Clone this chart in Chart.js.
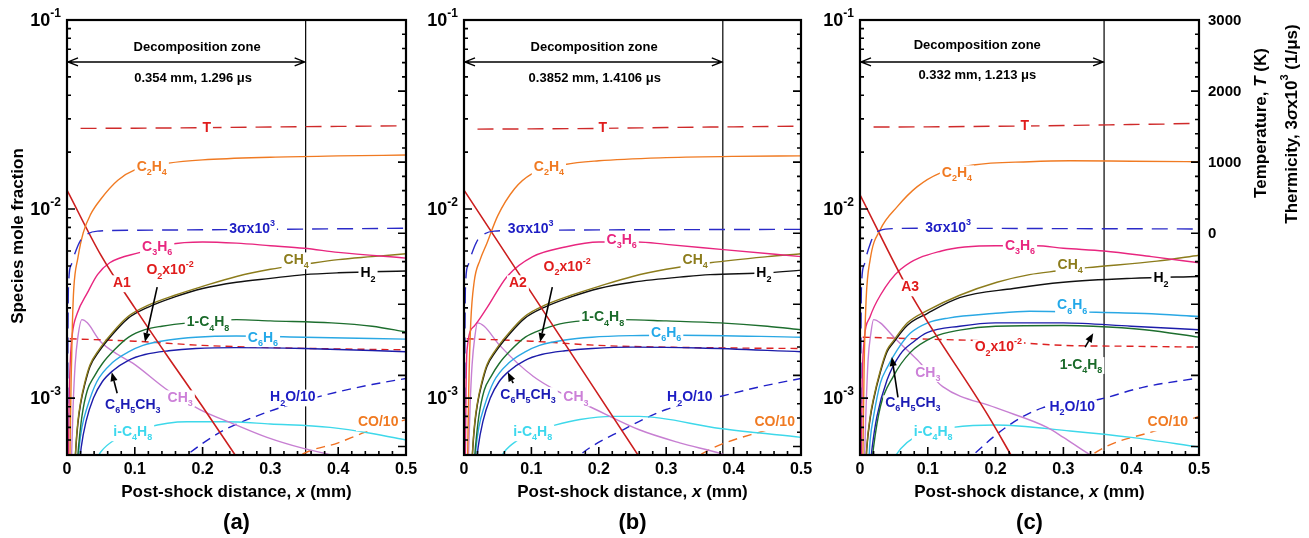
<!DOCTYPE html>
<html><head><meta charset="utf-8">
<script src="https://cdn.jsdelivr.net/npm/chart.js@4"></script>
<style>
body{margin:0;background:#fff;}
#wrap{position:relative;width:1309px;height:538px;background:#fff;}
canvas{position:absolute;left:0;top:0;}
</style></head>
<body><div id="wrap">
<canvas id="ca" width="1309" height="538"></canvas>
<canvas id="cb" width="1309" height="538"></canvas>
<canvas id="cc" width="1309" height="538"></canvas>
</div>
<script>
// ---------------- axis ranges / ticks ----------------
const X_MIN = 0, X_MAX = 0.5;
const Y_MIN = 5e-4, Y_MAX = 0.1;          // species mole fraction (log)
const Y2_MIN = -3120, Y2_MAX = 3000;      // temperature / thermicity (linear)
const X_TICKS = [0, 0.1, 0.2, 0.3, 0.4, 0.5];
const Y_DECADES = [0.1, 0.01, 0.001];
const Y2_LABELS = [0, 1000, 2000, 3000];

// decomposition zone ends (mm)
const DECOMP_X = [0.352, 0.384, 0.36];
const DECOMP_TEXT = ['0.354 mm, 1.296 μs', '0.3852 mm, 1.4106 μs', '0.332 mm, 1.213 μs'];

// ---------------- panel (a) ----------------
const T_a    = [[0.02,1475],[0.1,1478],[0.2,1485],[0.3,1495],[0.4,1503],[0.5,1511]];
const S_a    = [[0.0005,-3100],[0.002,-800],[0.006,-450],[0.01,-330],[0.015,-200],[0.02,-100],[0.03,-10],[0.045,30],[0.1,42],[0.3,55],[0.5,70]];
const C2H4_a = [[0.004,4e-4],[0.006,0.0012],[0.008,0.0025],[0.01,0.0038],[0.016,0.0055],[0.024,0.0075],[0.035,0.0094],[0.05,0.0113],[0.075,0.0142],[0.1,0.0161],[0.15,0.0175],[0.2,0.0182],[0.3,0.0188],[0.4,0.0191],[0.5,0.0193]];
const A1     = [[0,0.0126],[0.05,0.0057],[0.1,0.003],[0.15,0.00163],[0.2,0.0009],[0.248,0.0005],[0.26,0.00043]];
const C3H6_a = [[0.0015,3e-4],[0.003,0.0009],[0.005,0.0016],[0.008,0.0022],[0.015,0.0028],[0.03,0.0036],[0.045,0.0045],[0.063,0.0052],[0.108,0.0059],[0.15,0.0065],[0.2,0.0067],[0.25,0.0066],[0.3,0.0064],[0.35,0.0062],[0.4,0.0059],[0.5,0.0055]];
const CH4_a  = [[0.011,4e-4],[0.013,5.5e-4],[0.016,0.00075],[0.02,0.00095],[0.026,0.0012],[0.034,0.0015],[0.047,0.0018],[0.066,0.0022],[0.09,0.0027],[0.12,0.0031],[0.159,0.0035],[0.2,0.0039],[0.25,0.0044],[0.3,0.0048],[0.35,0.0051],[0.4,0.0054],[0.45,0.0056],[0.5,0.0058]];
const H2_a   = [[0.011,3.9e-4],[0.013,5.4e-4],[0.016,0.00073],[0.02,0.00093],[0.026,0.00117],[0.034,0.00147],[0.047,0.00176],[0.066,0.00215],[0.09,0.00264],[0.12,0.00303],[0.159,0.00343],[0.2,0.0038],[0.25,0.0041],[0.3,0.0043],[0.35,0.0045],[0.4,0.0046],[0.5,0.0047]];
const C4H8_a = [[0.014,4e-4],[0.017,5.5e-4],[0.022,0.0008],[0.03,0.0011],[0.04,0.0013],[0.052,0.00152],[0.07,0.0018],[0.091,0.0021],[0.115,0.0023],[0.14,0.0024],[0.18,0.0025],[0.25,0.0026],[0.3,0.00256],[0.39,0.0025],[0.45,0.0024],[0.5,0.00224]];
const C6H6_a = [[0.015,4e-4],[0.018,5.5e-4],[0.022,0.0007],[0.03,0.0009],[0.044,0.00122],[0.068,0.00155],[0.09,0.00175],[0.112,0.0019],[0.15,0.00203],[0.19,0.0021],[0.25,0.00213],[0.35,0.0021],[0.5,0.00205]];
const TOL_a  = [[0.017,4e-4],[0.021,5.5e-4],[0.028,0.00075],[0.039,0.001],[0.052,0.00122],[0.068,0.0014],[0.09,0.00158],[0.115,0.0017],[0.15,0.00178],[0.19,0.00183],[0.25,0.00185],[0.35,0.00183],[0.5,0.00176]];
const O2_a   = [[0.004,0.00206],[0.1,0.002],[0.2,0.0019],[0.3,0.00185],[0.4,0.00182],[0.5,0.0018]];
const CH3_a  = [[0.006,4e-4],[0.009,0.0009],[0.012,0.0015],[0.016,0.0021],[0.022,0.0026],[0.03,0.0025],[0.049,0.002],[0.075,0.0017],[0.097,0.00153],[0.147,0.00111],[0.196,0.00087],[0.25,0.00072],[0.295,0.00062],[0.35,0.00054],[0.39,0.0005],[0.42,0.00046]];
const IC4H8_a= [[0.04,4.5e-4],[0.05,0.00052],[0.07,0.0006],[0.1,0.00066],[0.118,0.0007],[0.177,0.00075],[0.233,0.00075],[0.3,0.00073],[0.388,0.0007],[0.45,0.00065],[0.5,0.0006]];
const H2O_a  = [[0.165,4.6e-4],[0.18,5.1e-4],[0.226,0.00066],[0.29,0.00083],[0.35,0.00097],[0.4,0.00108],[0.45,0.00118],[0.5,0.00127]];
const CO_a   = [[0.33,4.5e-4],[0.345,5e-4],[0.4,0.00058],[0.44,0.00066],[0.5,0.00077]];

// ---------------- panel (b) ----------------
const T_b    = [[0.02,1465],[0.1,1468],[0.2,1475],[0.3,1487],[0.4,1497],[0.5,1507]];
const S_b    = [[0.0005,-3100],[0.002,-800],[0.006,-450],[0.01,-330],[0.015,-200],[0.02,-100],[0.03,-10],[0.045,30],[0.1,42],[0.3,50],[0.5,55]];
const C2H4_b = [[0.005,4e-4],[0.007,0.0011],[0.01,0.0025],[0.015,0.0041],[0.024,0.0054],[0.034,0.0066],[0.05,0.0092],[0.075,0.0128],[0.1,0.0153],[0.15,0.0172],[0.2,0.018],[0.3,0.0187],[0.4,0.019],[0.5,0.0191]];
const A2     = [[0,0.0126],[0.27,0.000431]];
const C3H6_b = [[0.0015,3e-4],[0.003,0.0011],[0.0045,0.0018],[0.015,0.0024],[0.034,0.003],[0.064,0.0044],[0.102,0.0056],[0.15,0.0063],[0.2,0.0067],[0.257,0.0067],[0.3,0.0065],[0.385,0.0061],[0.5,0.0056]];
const CH4_b  = [[0.011,4e-4],[0.013,5.5e-4],[0.016,0.00075],[0.02,0.00095],[0.026,0.0012],[0.034,0.0015],[0.047,0.0018],[0.066,0.0022],[0.09,0.0027],[0.12,0.0031],[0.159,0.0035],[0.2,0.0039],[0.25,0.0044],[0.3,0.0048],[0.365,0.0052],[0.45,0.0056],[0.5,0.0058]];
const H2_b   = [[0.011,3.9e-4],[0.013,5.4e-4],[0.016,0.00073],[0.02,0.00093],[0.026,0.00117],[0.034,0.00147],[0.047,0.00176],[0.066,0.00215],[0.09,0.00264],[0.12,0.00303],[0.159,0.00343],[0.2,0.0038],[0.25,0.0041],[0.33,0.0044],[0.365,0.0045],[0.45,0.0046],[0.5,0.00475]];
const C4H8_b = [[0.014,4e-4],[0.017,5.5e-4],[0.022,0.0008],[0.03,0.0011],[0.04,0.0013],[0.052,0.00152],[0.07,0.0018],[0.091,0.0021],[0.115,0.0023],[0.15,0.0025],[0.236,0.0026],[0.3,0.00256],[0.38,0.0025],[0.45,0.0024],[0.5,0.0023]];
const C6H6_b = [[0.015,4e-4],[0.018,5.5e-4],[0.022,0.0007],[0.03,0.0009],[0.044,0.00122],[0.068,0.00155],[0.09,0.00175],[0.112,0.0019],[0.15,0.00203],[0.19,0.0021],[0.25,0.00214],[0.32,0.00215],[0.5,0.0021]];
const TOL_b  = [[0.017,4e-4],[0.021,5.5e-4],[0.028,0.00075],[0.039,0.001],[0.052,0.00122],[0.068,0.0014],[0.09,0.00158],[0.115,0.0017],[0.15,0.00178],[0.19,0.00183],[0.25,0.00186],[0.35,0.00184],[0.5,0.00176]];
const O2_b   = [[0.004,0.00206],[0.1,0.002],[0.2,0.0019],[0.3,0.00186],[0.4,0.00184],[0.5,0.00183]];
const CH3_b  = [[0.006,4e-4],[0.009,0.0009],[0.012,0.0015],[0.016,0.0021],[0.02,0.0025],[0.03,0.0024],[0.053,0.0019],[0.103,0.0013],[0.147,0.00105],[0.187,0.0009],[0.26,0.00068],[0.32,0.00058],[0.38,0.00051],[0.41,0.00047]];
const IC4H8_b= [[0.05,4.5e-4],[0.06,0.00052],[0.08,0.0006],[0.1,0.00066],[0.135,0.00072],[0.172,0.00077],[0.22,0.0008],[0.26,0.0008],[0.38,0.00069],[0.5,0.00062]];
const H2O_b  = [[0.16,4.5e-4],[0.172,5e-4],[0.236,0.00068],[0.3,0.00087],[0.38,0.00102],[0.44,0.00115],[0.5,0.00127]];
const CO_b   = [[0.335,4.5e-4],[0.35,5e-4],[0.45,0.00068],[0.5,0.00076]];

// ---------------- panel (c) ----------------
const T_c    = [[0.02,1495],[0.1,1497],[0.2,1505],[0.3,1515],[0.4,1530],[0.5,1545]];
const S_c    = [[0.0005,-3100],[0.002,-800],[0.006,-450],[0.01,-300],[0.015,-150],[0.02,-40],[0.03,40],[0.05,65],[0.1,70],[0.3,65],[0.5,60]];
const C2H4_c = [[0.004,4e-4],[0.006,0.0014],[0.009,0.0033],[0.015,0.0054],[0.03,0.0078],[0.055,0.0103],[0.084,0.0131],[0.118,0.0155],[0.167,0.0171],[0.25,0.0178],[0.31,0.018],[0.4,0.0179],[0.5,0.0178]];
const A3     = [[0,0.0119],[0.074,0.0036],[0.187,0.00083],[0.23,0.00045]];
const C3H6_c = [[0.0015,3e-4],[0.003,0.0011],[0.005,0.0018],[0.015,0.0027],[0.03,0.0035],[0.06,0.0048],[0.12,0.006],[0.2,0.0064],[0.26,0.0064],[0.3,0.0062],[0.36,0.006],[0.43,0.0056],[0.5,0.0052]];
const CH4_c  = [[0.008,4e-4],[0.01,5.5e-4],[0.015,0.0008],[0.02,0.001],[0.03,0.0014],[0.04,0.0018],[0.049,0.002],[0.07,0.0025],[0.099,0.0029],[0.147,0.0035],[0.202,0.0041],[0.25,0.0045],[0.29,0.0047],[0.335,0.0049],[0.438,0.0053],[0.5,0.0057]];
const H2_c   = [[0.008,3.9e-4],[0.01,5.4e-4],[0.015,0.00078],[0.02,0.00098],[0.03,0.00137],[0.04,0.00176],[0.049,0.00196],[0.07,0.00243],[0.099,0.0028],[0.147,0.0034],[0.226,0.0038],[0.3,0.0041],[0.4,0.0043],[0.5,0.0044]];
const C6H6_c = [[0.012,4e-4],[0.015,6e-4],[0.02,0.0008],[0.03,0.0012],[0.04,0.00145],[0.055,0.0018],[0.074,0.0022],[0.1,0.0025],[0.13,0.00265],[0.196,0.0028],[0.25,0.00288],[0.335,0.00285],[0.42,0.0028],[0.5,0.0027]];
const TOL_c  = [[0.014,4e-4],[0.018,5.5e-4],[0.025,0.0008],[0.04,0.00125],[0.059,0.0017],[0.08,0.002],[0.099,0.00222],[0.147,0.0024],[0.2,0.0025],[0.3,0.0025],[0.4,0.0024],[0.5,0.0023]];
const C4H8_c = [[0.016,4e-4],[0.02,5.5e-4],[0.03,0.0009],[0.049,0.0013],[0.074,0.00174],[0.108,0.0021],[0.147,0.00229],[0.2,0.0024],[0.3,0.00242],[0.344,0.0024],[0.42,0.0023],[0.5,0.0021]];
const O2_c   = [[0.004,0.0021],[0.1,0.00205],[0.2,0.002],[0.3,0.0019],[0.4,0.00188],[0.5,0.00186]];
const CH3_c  = [[0.006,4e-4],[0.009,0.0009],[0.012,0.0016],[0.016,0.0022],[0.02,0.0026],[0.03,0.0025],[0.05,0.0021],[0.084,0.0016],[0.122,0.00115],[0.2,0.00089],[0.276,0.0007],[0.3,0.00062],[0.34,0.0005],[0.37,0.00044]];
const IC4H8_c= [[0.045,4.5e-4],[0.06,0.00054],[0.08,0.00062],[0.1,0.00066],[0.137,0.0007],[0.2,0.00072],[0.31,0.00067],[0.4,0.00062],[0.5,0.00055]];
const H2O_c  = [[0.155,4.5e-4],[0.167,5e-4],[0.22,0.00072],[0.27,0.00089],[0.35,0.00098],[0.417,0.00114],[0.5,0.00128]];
const CO_c   = [[0.33,4.5e-4],[0.342,5e-4],[0.44,0.00068],[0.5,0.0008]];

// ---------------- styles ----------------
const COL = {T:'#cf2a2a', S:'#2a2ac8', C2H4:'#f07a22', A:'#cc1e1e', C3H6:'#e8267f', CH4:'#8c7c1c', H2:'#111111',
  C4H8:'#1d6e2e', C6H6:'#2aa8e4', TOL:'#1c1caa', O2:'#dd2222', CH3:'#c77fd2', IC4H8:'#3ed8ea', H2O:'#2020c8', CO:'#f07020'};
const LC = {red:'#e01c1c', orange:'#f07a22', blue:'#1c1cc4', mag:'#e8267f', olive:'#8c7c1c', black:'#000',
  green:'#1a6a2a', lblue:'#22a8e8', dblue:'#1c1cb4', violet:'#cc80d8', cyan:'#3cd8ee'};
const FONT = '"Liberation Sans", Arial, Helvetica, sans-serif';

// curve labels (text, x, y in data units, colour)
const LABELS_A = [
 ['T',0.206,0.0268,LC.red],['C_2H_4',0.125,0.0167,LC.orange],['3σx10^3',0.273,0.00784,LC.blue],
 ['C_3H_6',0.133,0.0063,LC.mag],['CH_4',0.338,0.00537,LC.olive],['H_2',0.444,0.00458,LC.black],
 ['A1',0.081,0.00406,LC.red],['O_2x10^{-2}',0.152,0.00475,LC.red],['1-C_4H_8',0.208,0.00252,LC.green],
 ['C_6H_6',0.289,0.00208,LC.lblue],['C_6H_5CH_3',0.097,0.000919,LC.dblue],['CH_3',0.167,0.001,LC.violet],
 ['i-C_4H_8',0.097,0.000661,LC.cyan],['H_2O/10',0.333,0.00101,LC.blue],['CO/10',0.459,0.000746,LC.orange]];
const LABELS_B = [
 ['T',0.206,0.0268,LC.red],['C_2H_4',0.126,0.0167,LC.orange],['3σx10^3',0.099,0.00784,LC.blue],
 ['C_3H_6',0.234,0.00686,LC.mag],['CH_4',0.343,0.00537,LC.olive],['H_2',0.445,0.00458,LC.black],
 ['A2',0.080,0.00406,LC.red],['O_2x10^{-2}',0.153,0.00493,LC.red],['1-C_4H_8',0.206,0.00268,LC.green],
 ['C_6H_6',0.30,0.00221,LC.lblue],['C_6H_5CH_3',0.095,0.00104,LC.dblue],['CH_3',0.166,0.00101,LC.violet],
 ['i-C_4H_8',0.102,0.000661,LC.cyan],['H_2O/10',0.335,0.00101,LC.blue],['CO/10',0.461,0.000746,LC.orange]];
const LABELS_C = [
 ['T',0.243,0.0275,LC.red],['C_2H_4',0.143,0.0155,LC.orange],['3σx10^3',0.130,0.00793,LC.blue],
 ['C_3H_6',0.236,0.0064,LC.mag],['CH_4',0.310,0.00506,LC.olive],['H_2',0.444,0.00431,LC.black],
 ['A3',0.074,0.00386,LC.red],['C_6H_6',0.313,0.0031,LC.lblue],['O_2x10^{-2}',0.204,0.00186,LC.red],
 ['1-C_4H_8',0.326,0.0015,LC.green],['CH_3',0.100,0.00136,LC.violet],['C_6H_5CH_3',0.078,0.000942,LC.dblue],
 ['i-C_4H_8',0.108,0.000661,LC.cyan],['H_2O/10',0.313,0.000896,LC.blue],['CO/10',0.454,0.000746,LC.orange]];
// pointer arrows [x1,y1,x2(tip),y2(tip)]
const ARROWS_A = [[0.133,0.00386,0.115,0.00198],[0.074,0.00106,0.066,0.00137]];
const ARROWS_B = [[0.131,0.00386,0.113,0.00198],[0.073,0.0012,0.065,0.00137]];
const ARROWS_C = [[0.332,0.00186,0.344,0.0022],[0.056,0.00101,0.047,0.00165]];

// ---------------- helpers ----------------
function fontStr(sz, it){ return (it?'italic ':'') + 'bold ' + sz + 'px ' + FONT; }
function parseRich(s){
  const segs=[]; let cur='', it=false;
  const push=()=>{ if(cur){ segs.push({t:cur,m:0,it}); cur=''; } };
  for(let i=0;i<s.length;){
    const c=s[i];
    if(c==='~'){ push(); it=!it; i++; }
    else if(c==='_'||c==='^'){
      push(); let txt;
      if(s[i+1]==='{'){ const j=s.indexOf('}',i); txt=s.slice(i+2,j); i=j+1; }
      else { txt=s[i+1]; i+=2; }
      segs.push({t:txt,m:c==='_'?-1:1,it});
    } else { cur+=c; i++; }
  }
  push(); return segs;
}
function drawRich(ctx, s, x, y, size, color, align, bg){
  const segs=parseRich(s); const sm=Math.round(size*0.66); let w=0;
  for(const g of segs){ ctx.font=fontStr(g.m?sm:size,g.it); g.w=ctx.measureText(g.t).width; w+=g.w; }
  const x0 = align==='center'? x-w/2 : align==='right'? x-w : x;
  if(bg){ ctx.fillStyle='#fff'; ctx.fillRect(x0-2, y-size*0.55, w+4, size*1.2); }
  ctx.fillStyle=color; ctx.textBaseline='middle'; ctx.textAlign='left';
  let cx=x0;
  for(const g of segs){
    ctx.font=fontStr(g.m?sm:size,g.it);
    const dy = g.m===-1? size*0.42 : g.m===1? -size*0.42 : 0;
    ctx.fillText(g.t, cx, y+dy); cx+=g.w;
  }
}
function pointer(ctx,x1,y1,x2,y2){
  ctx.strokeStyle='#000'; ctx.fillStyle='#000'; ctx.lineWidth=1.6;
  const a=Math.atan2(y2-y1,x2-x1), L=9, H=3.6;
  const bx=x2-L*Math.cos(a), by=y2-L*Math.sin(a);
  ctx.beginPath(); ctx.moveTo(x1,y1); ctx.lineTo(bx,by); ctx.stroke();
  ctx.beginPath(); ctx.moveTo(x2,y2);
  ctx.lineTo(bx+H*Math.sin(a), by-H*Math.cos(a));
  ctx.lineTo(bx-H*Math.sin(a), by+H*Math.cos(a)); ctx.closePath(); ctx.fill();
}

function makePlugin(cfg){
  return {
    id:'panelDeco',
    afterDatasetsDraw(chart){
      const {ctx, chartArea:ca} = chart; const {x, y, y2} = chart.scales;
      ctx.save();
      for(const L of cfg.labels) drawRich(ctx, L[0], x.getPixelForValue(L[1]), y.getPixelForValue(L[2]), 14, L[3], 'center', true);
      for(const A of cfg.arrows) pointer(ctx, x.getPixelForValue(A[0]), y.getPixelForValue(A[1]), x.getPixelForValue(A[2]), y.getPixelForValue(A[3]));
      const ay=y.getPixelForValue(0.06), ax0=x.getPixelForValue(0), ax1=x.getPixelForValue(cfg.decomp);
      ctx.strokeStyle='#000'; ctx.lineWidth=1.4;
      ctx.beginPath(); ctx.moveTo(ax0,ay); ctx.lineTo(ax1,ay);
      ctx.moveTo(ax0+11,ay-4); ctx.lineTo(ax0+1,ay); ctx.lineTo(ax0+11,ay+4);
      ctx.moveTo(ax1-11,ay-4); ctx.lineTo(ax1-1,ay); ctx.lineTo(ax1-11,ay+4); ctx.stroke();
      drawRich(ctx,'Decomposition zone', x.getPixelForValue(cfg.dz[0]), y.getPixelForValue(cfg.dz[1]), 13, '#000','center',false);
      drawRich(ctx,cfg.dtext, x.getPixelForValue(cfg.dv[0]), y.getPixelForValue(cfg.dv[1]), 13, '#000','center',false);
      ctx.strokeStyle='#000'; ctx.lineWidth=2.2;
      ctx.strokeRect(ca.left, ca.top, ca.width, ca.height);
      ctx.lineWidth=1.6; ctx.beginPath();
      for(let e=-4;e<=-1;e++) for(let m=1;m<=9;m++){
        const v=m*Math.pow(10,e); if(v<Y_MIN*0.999||v>Y_MAX*1.001) continue;
        const py=y.getPixelForValue(v); const len=m===1?8:4;
        ctx.moveTo(ca.left,py); ctx.lineTo(ca.left+len,py);
      }
      for(let v=-3000; v<=3000; v+=200){
        const py=y2.getPixelForValue(v); if(py<ca.top-0.5||py>ca.bottom+0.5) continue;
        const len=v%1000===0?8:4; ctx.moveTo(ca.right,py); ctx.lineTo(ca.right-len,py);
      }
      for(let i=0;i<=25;i++){
        const px=x.getPixelForValue(i*0.02); const len=i%5===0?8:4;
        ctx.moveTo(px,ca.bottom); ctx.lineTo(px,ca.bottom-len);
      }
      ctx.stroke();
      for(const v of X_TICKS) drawRich(ctx, v===0?'0':v.toFixed(1), x.getPixelForValue(v), ca.bottom+15, 16, '#000','center',false);
      for(const v of Y_DECADES) drawRich(ctx, '10^{'+Math.round(Math.log10(v))+'}', ca.left-6, y.getPixelForValue(v)+1, 18, '#000','right',false);
      const cx=(ca.left+ca.right)/2;
      drawRich(ctx,'Post-shock distance, ~x~ (mm)', cx, ca.bottom+37, 17, '#000','center',false);
      drawRich(ctx,cfg.tag, cx, ca.bottom+68, 22, '#000','center',false);
      if(cfg.leftTitle){
        ctx.save(); ctx.translate(18,236); ctx.rotate(-Math.PI/2);
        drawRich(ctx,'Species mole fraction',0,0,17,'#000','center',false); ctx.restore();
      }
      if(cfg.rightAxis){
        for(const v of Y2_LABELS) drawRich(ctx, String(v), ca.right+9, y2.getPixelForValue(v)+1, 15, '#000','left',false);
        ctx.save(); ctx.translate(1261,123); ctx.rotate(-Math.PI/2);
        drawRich(ctx,'Temperature, ~T~ (K)',0,0,17,'#000','center',false); ctx.restore();
        ctx.save(); ctx.translate(1292,124); ctx.rotate(-Math.PI/2);
        drawRich(ctx,'Thermicity, 3~σ~x10^3 (1/μs)',0,0,17,'#000','center',false); ctx.restore();
      }
      ctx.restore();
    }
  };
}

function pts(a){ return a.map(p=>({x:p[0],y:p[1]})); }
function ln(data,color,extra){
  return Object.assign({data:pts(data), borderColor:color, backgroundColor:color, borderWidth:1.4, pointRadius:0,
    fill:false, cubicInterpolationMode:'monotone', clip:0, yAxisID:'y'}, extra||{});
}

function buildPanel(canvasId, left, right, S, cfg){
  const datasets = [
    ln(S.T, COL.T, {yAxisID:'y2', borderDash:[16,9]}),
    ln(S.S, COL.S, {yAxisID:'y2', borderDash:[16,9]}),
    ln(S.C2H4, COL.C2H4),
    ln(S.A, COL.A, {borderWidth:1.6}),
    ln(S.C3H6, COL.C3H6),
    ln(S.CH4, COL.CH4),
    ln(S.H2, COL.H2),
    ln(S.C4H8, COL.C4H8),
    ln(S.C6H6, COL.C6H6),
    ln(S.TOL, COL.TOL),
    ln(S.O2, COL.O2, {borderDash:[7,5]}),
    ln(S.CH3, COL.CH3),
    ln(S.IC4H8, COL.IC4H8),
    ln(S.H2O, COL.H2O, {borderDash:[9,6]}),
    ln(S.CO, COL.CO, {borderDash:[9,6]}),
    ln([[cfg.decomp,Y_MIN],[cfg.decomp,Y_MAX]], '#000', {cubicInterpolationMode:'default', tension:0, borderWidth:1.2})
  ];
  return new Chart(document.getElementById(canvasId), {
    type:'line',
    data:{datasets},
    options:{
      responsive:false, animation:false, devicePixelRatio:1,
      layout:{autoPadding:false, padding:{left:left, right:1309-right, top:20, bottom:538-455}},
      scales:{
        x:{type:'linear', min:X_MIN, max:X_MAX, display:false},
        y:{type:'logarithmic', min:Y_MIN, max:Y_MAX, display:false},
        y2:{type:'linear', min:Y2_MIN, max:Y2_MAX, display:false}
      },
      plugins:{legend:{display:false}, tooltip:{enabled:false}},
      events:[]
    },
    plugins:[makePlugin(cfg)]
  });
}

buildPanel('ca', 67, 406,
  {T:T_a,S:S_a,C2H4:C2H4_a,A:A1,C3H6:C3H6_a,H2:H2_a,CH4:CH4_a,C4H8:C4H8_a,C6H6:C6H6_a,TOL:TOL_a,O2:O2_a,CH3:CH3_a,IC4H8:IC4H8_a,H2O:H2O_a,CO:CO_a},
  {decomp:DECOMP_X[0], dtext:DECOMP_TEXT[0], dz:[0.192,0.072], dv:[0.186,0.0493], labels:LABELS_A, arrows:ARROWS_A, tag:'(a)', leftTitle:true});
buildPanel('cb', 464, 801,
  {T:T_b,S:S_b,C2H4:C2H4_b,A:A2,C3H6:C3H6_b,H2:H2_b,CH4:CH4_b,C4H8:C4H8_b,C6H6:C6H6_b,TOL:TOL_b,O2:O2_b,CH3:CH3_b,IC4H8:IC4H8_b,H2O:H2O_b,CO:CO_b},
  {decomp:DECOMP_X[1], dtext:DECOMP_TEXT[1], dz:[0.193,0.072], dv:[0.194,0.0493], labels:LABELS_B, arrows:ARROWS_B, tag:'(b)'});
buildPanel('cc', 860, 1199,
  {T:T_c,S:S_c,C2H4:C2H4_c,A:A3,C3H6:C3H6_c,H2:H2_c,CH4:CH4_c,C4H8:C4H8_c,C6H6:C6H6_c,TOL:TOL_c,O2:O2_c,CH3:CH3_c,IC4H8:IC4H8_c,H2O:H2O_c,CO:CO_c},
  {decomp:DECOMP_X[2], dtext:DECOMP_TEXT[2], dz:[0.173,0.0738], dv:[0.173,0.0512], labels:LABELS_C, arrows:ARROWS_C, tag:'(c)', rightAxis:true});
</script>
</body></html>
